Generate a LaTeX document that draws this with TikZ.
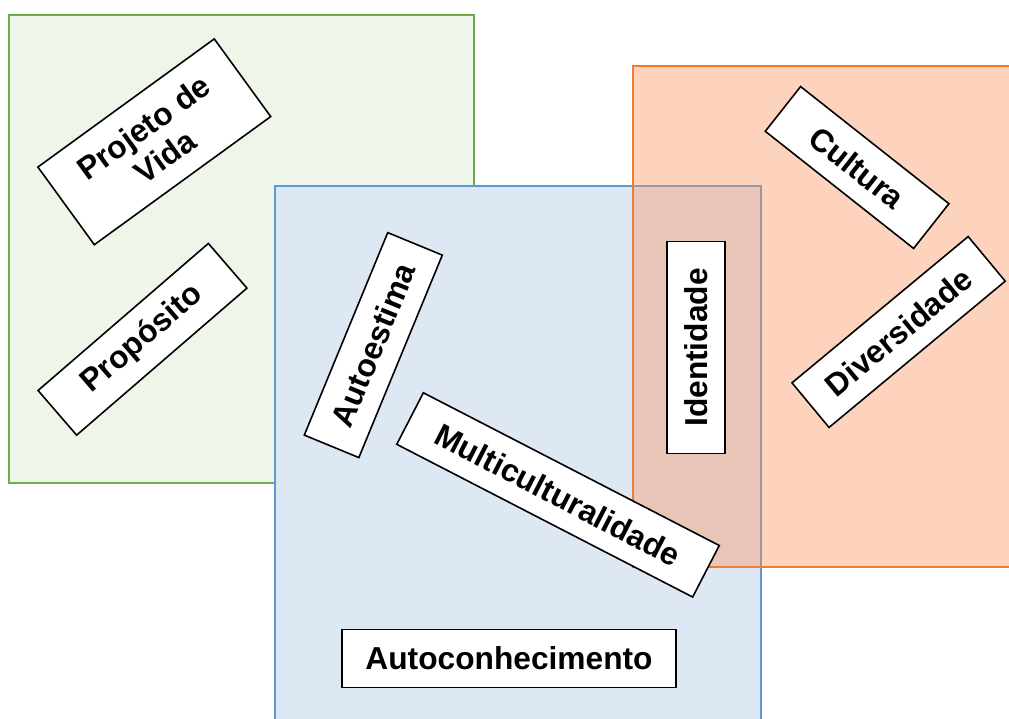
\documentclass[tikz,border=0pt]{standalone}
\usepackage{fontspec}
\setmainfont{Liberation Sans}
\definecolor{grnB}{HTML}{70AD47}
\definecolor{grnF}{HTML}{EEF5E9}
\definecolor{bluB}{HTML}{5B9BD5}
\definecolor{bluF}{HTML}{DEE8F4}
\definecolor{orgB}{HTML}{ED7D31}
\definecolor{orgF}{HTML}{FA915C}
\begin{document}
\begin{tikzpicture}[x=1pt,y=-1pt,
  tbox/.style={draw=black, line width=1.6pt, fill=white, inner sep=0pt,
    font=\bfseries\fontsize{31.7}{36}\selectfont, align=center, anchor=center},
  sq/.style={line width=2.4pt}]
\useasboundingbox (0,0) rectangle (1009,718);
\clip (0,0) rectangle (1009,718);
% green square
\draw[sq, draw=grnB, fill=grnF] (9,14.7) rectangle (474,483);
% blue square
\draw[sq, draw=bluB, fill=bluF] (275,185.7) rectangle (761,740);
% orange square (semi-transparent fill)
\fill[orgF, fill opacity=0.4] (633,65.7) rectangle (1030,567);
\draw[sq, draw=orgB] (633,65.7) rectangle (1030,567);
% labels
\node[tbox, minimum width=218pt, minimum height=96pt, rotate=36] (pv) at (154.3,141.8) {Projeto de\\Vida};
\node[tbox, minimum width=225pt, minimum height=59pt, rotate=40.8] (pr) at (142.5,339.3) {Propósito};
\node[tbox, minimum width=219pt, minimum height=59pt, rotate=67.6] (ae) at (373.3,345.1) {Autoestima};
\node[tbox, minimum width=333pt, minimum height=58pt, rotate=-27.3] (mc) at (558,494.9) {Multiculturalidade};
\node[tbox, minimum width=212pt, minimum height=58pt, rotate=90] (id) at (696.2,347.5) {Identidade};
\node[tbox, minimum width=189pt, minimum height=57pt, rotate=-38.3] (cu) at (857.1,167.5) {Cultura};
\node[tbox, minimum width=229pt, minimum height=58pt, rotate=39.7] (dv) at (898.6,332) {Diversidade};
\node[tbox, minimum width=334pt, minimum height=58pt] (ac) at (509,658.3) {Autoconhecimento};
\end{tikzpicture}
\end{document}
